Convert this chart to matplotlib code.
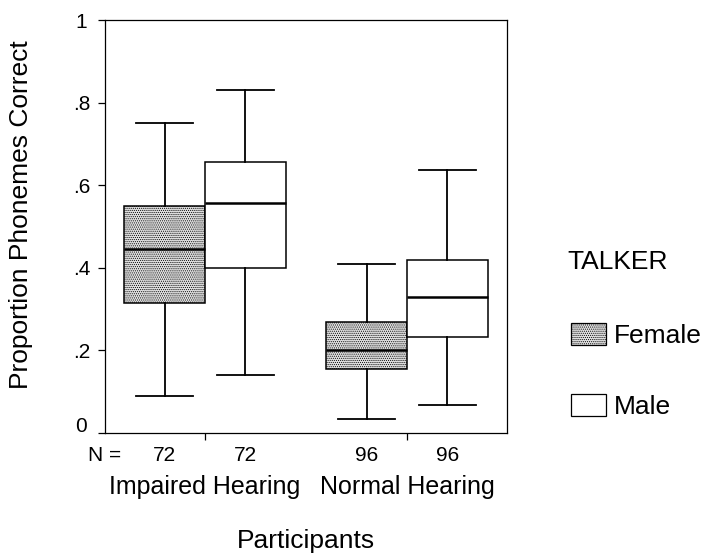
import matplotlib.pyplot as plt
import matplotlib.transforms as mtransforms
from matplotlib.patches import Patch

plt.rcParams['font.family'] = ['Liberation Sans', 'DejaVu Sans']
plt.rcParams['hatch.color'] = '#7a7a7a'
plt.rcParams['hatch.linewidth'] = 0.5

groups = ['Impaired Hearing', 'Normal Hearing']
talkers = ['Female', 'Male']
n_counts = [72, 72, 96, 96]

# whisker low, q1, median, q3, whisker high
impaired_female = [0.09, 0.315, 0.445, 0.55, 0.75]
impaired_male = [0.14, 0.40, 0.558, 0.655, 0.83]
normal_female = [0.033, 0.154, 0.20, 0.268, 0.41]
normal_male = [0.069, 0.232, 0.33, 0.418, 0.636]

y_ticks = [0, 0.2, 0.4, 0.6, 0.8, 1.0]
y_ticklabels = ['0', '.2', '.4', '.6', '.8', '1']

FEMALE_FILL = '#e0e0e0'
HATCH = '........'


def stats(vals, label):
    lo, q1, med, q3, hi = vals
    return {'whislo': lo, 'q1': q1, 'med': med, 'q3': q3, 'whishi': hi,
            'fliers': [], 'label': label}


fig = plt.figure(figsize=(7.04, 5.58), dpi=100)
ax = fig.add_axes([105 / 704, 1 - 433 / 558, 402 / 704, 413 / 558])

centers = [1, 2]
w = 0.40
boxes = [impaired_female, impaired_male, normal_female, normal_male]
fills = [FEMALE_FILL, 'white', FEMALE_FILL, 'white']
positions = []
for c in centers:
    positions += [c - w / 2, c + w / 2]

for vals, pos, fc, n in zip(boxes, positions, fills, n_counts):
    ax.bxp([stats(vals, str(n))], positions=[pos], widths=[w],
           patch_artist=True, showfliers=False, manage_ticks=False,
           boxprops=dict(facecolor=fc, edgecolor='black', linewidth=1.1,
                         hatch=HATCH if fc != 'white' else None),
           medianprops=dict(color='black', linewidth=1.8),
           whiskerprops=dict(color='black', linewidth=1.3),
           capprops=dict(color='black', linewidth=1.3),
           capwidths=[w * 0.7])

ax.set_xlim(0.505, 2.495)
ax.set_ylim(0, 1.0)
ax.set_yticks(y_ticks)
ax.set_yticklabels(y_ticklabels, fontsize=15, ha='center')
ax.tick_params(axis='y', length=5, pad=12, width=0.9)
# SPSS lifts the "0" label above its tick
lbl0 = ax.get_yticklabels()[0]
lbl0.set_transform(lbl0.get_transform() +
                   mtransforms.ScaledTranslation(0, 9 / 100, fig.dpi_scale_trans))
ax.set_xticks(centers)
ax.set_xticklabels(groups, fontsize=18)
ax.tick_params(axis='x', length=5, pad=25, width=0.9)
for s in ax.spines.values():
    s.set_linewidth(0.9)

# N row
ax.text((121 - 105) / 402, -0.054, 'N =', transform=ax.transAxes, fontsize=15,
        ha='right', va='center')
for pos, n in zip(positions, n_counts):
    ax.text(pos, -0.054, str(n), transform=ax.get_xaxis_transform(),
            fontsize=15, ha='center', va='center')

ax.set_ylabel('Proportion Phonemes Correct', fontsize=19)
ax.yaxis.set_label_coords((33 - 105) / 402, (433 - 215) / 413)
ax.set_xlabel('Participants', fontsize=19, labelpad=22)

fig.text(567 / 704, 1 - 262 / 558, 'TALKER', fontsize=19, ha='left', va='center')
handles = [Patch(facecolor=FEMALE_FILL, edgecolor='black', linewidth=0.9, hatch=HATCH),
           Patch(facecolor='white', edgecolor='black', linewidth=0.9)]
fig.legend(handles, talkers, loc='upper left',
           bbox_to_anchor=(571 / 704, 1 - 323 / 558), frameon=False,
           fontsize=19, handlelength=1.33, handleheight=0.9,
           handletextpad=0.3, labelspacing=1.75, borderpad=0, borderaxespad=0)

fig.savefig('out.png', dpi=100)
